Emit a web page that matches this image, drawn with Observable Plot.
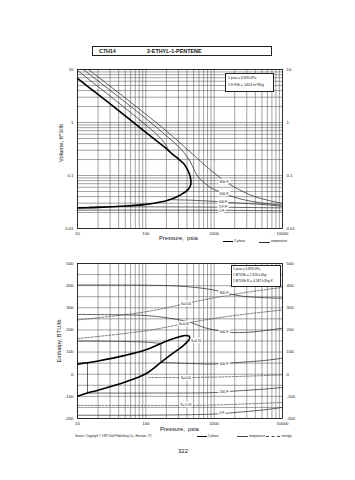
<!DOCTYPE html>
<html><head><meta charset="utf-8">
<script src="https://cdn.jsdelivr.net/npm/d3@7"></script>
<script src="https://cdn.jsdelivr.net/npm/@observablehq/plot@0.6"></script>
<style>
html,body{margin:0;padding:0;background:#fff;}
#page{position:relative;width:355px;height:480px;overflow:hidden;font-family:"Liberation Sans",Arial,Helvetica,sans-serif;color:#111;}
.t{position:absolute;white-space:nowrap;line-height:1;}
.box{position:absolute;border:0.8px solid #222;box-sizing:border-box;background:#fff;}
.svgwrap{position:absolute;left:0;}
.rot{position:absolute;transform:translate(-50%,-50%) rotate(-90deg);white-space:nowrap;line-height:1;}
.sw{position:absolute;height:0;}
</style></head>
<body><div id="page">
 <div class="box" style="left:92px;top:46px;width:180px;height:10px;"></div>
 <div class="t" style="left:99px;top:48.5px;font-size:5.4px;font-weight:bold;">C7H14</div>
 <div class="t" style="left:147px;top:48.5px;font-size:5.4px;font-weight:bold;">2-ETHYL-1-PENTENE</div>

 <div id="top" class="svgwrap" style="top:60px"></div>
 <div id="bot" class="svgwrap" style="top:254px"></div>

 <!-- top chart annotations -->
 <div class="box" style="left:225px;top:73px;width:49px;height:19px;"></div>
 <div class="t" style="left:228px;top:77px;font-size:3.4px;">1 psia = 6.895 kPa</div>
 <div class="t" style="left:228px;top:83.5px;font-size:3.4px;">1 ft^3/lb = .0624 m^3/kg</div>
 <div class="rot" style="left:62px;top:143px;font-size:5.8px;">Volume, ft^3/lb</div>
 <div class="t" style="left:159px;top:236px;font-size:5.8px;">Pressure,&nbsp; psia</div>
 <div class="sw" style="left:223px;top:241px;width:10px;border-top:1.6px solid #000;"></div>
 <div class="t" style="left:234.5px;top:240px;font-size:3px;">2 phase</div>
 <div class="sw" style="left:259px;top:241.5px;width:11px;border-top:0.7px solid #333;"></div>
 <div class="t" style="left:271px;top:240px;font-size:3px;">temperature</div>

 <!-- bottom chart annotations -->
 <div class="box" style="left:231px;top:265px;width:50px;height:22px;"></div>
 <div class="t" style="left:233px;top:268px;font-size:3.3px;">1 psia = 6.895 kPa</div>
 <div class="t" style="left:233px;top:274px;font-size:3.3px;">1 BTU/lb = 2.326 kJ/kg</div>
 <div class="t" style="left:233px;top:280px;font-size:3.3px;">1 BTU/lb R = 4.187 kJ/kg K</div>
 <div class="rot" style="left:60px;top:341px;font-size:5.8px;">Enthalpy, BTU/lb</div>
 <div class="t" style="left:160px;top:427px;font-size:5.8px;">Pressure,&nbsp; psia</div>
 <div class="t" style="left:75px;top:434.5px;font-size:2.9px;">Source: Copyright © 1997 Gulf Publishing Co., Houston, TX</div>
 <div class="sw" style="left:197px;top:436px;width:10px;border-top:1.6px solid #000;"></div>
 <div class="t" style="left:208px;top:434.5px;font-size:3px;">2 phase</div>
 <div class="sw" style="left:237px;top:436.3px;width:11px;border-top:0.7px solid #444;"></div>
 <div class="t" style="left:249px;top:434.5px;font-size:3px;">temperature</div>
 <div class="sw" style="left:266px;top:436.3px;width:14px;border-top:0.7px dashed #444;"></div>
 <div class="t" style="left:281.5px;top:434.5px;font-size:3px;">entropy</div>
 <div class="t" style="left:178px;top:448px;font-size:6px;">322</div>
</div>
<script>
// ---------- axis / grid values ----------
const P_TICKS = [10, 100, 1000, 10000];
const P_TICK_LABELS = ["10", "100", "1000", "10000"];
const P_GRID = [10,20,30,40,50,60,70,80,90,100,200,300,400,500,600,700,800,900,1000,2000,3000,4000,5000,6000,7000,8000,9000,10000];
const V_TICKS = [0.01, 0.1, 1, 10];
const V_TICK_LABELS = ["0.01", "0.1", "1", "10"];
const V_GRID = [0.01,0.02,0.03,0.04,0.05,0.06,0.07,0.08,0.09,0.1,0.2,0.3,0.4,0.5,0.6,0.7,0.8,0.9,1,2,3,4,5,6,7,8,9,10];
const H_TICKS = [-200, -100, 0, 100, 200, 300, 400, 500];
const H_TICK_LABELS = ["-200", "-100", "0", "100", "200", "300", "400", "500"];
const H_GRID = [-200,-150,-100,-50,0,50,100,150,200,250,300,350,400,450,500];

// ---------- volume chart: two-phase dome ----------
const volLiqP = [10, 20, 50, 100, 150, 200, 250, 300, 350, 400, 430, 450, 457];
const volLiqV = [0.0245, 0.025, 0.0265, 0.0285, 0.031, 0.0335, 0.037, 0.041, 0.046, 0.052, 0.058, 0.065, 0.074];
const volVapP = [450, 430, 400, 362, 300, 233, 200, 150, 100, 50, 20, 10];
const volVapV = [0.09, 0.11, 0.135, 0.165, 0.205, 0.268, 0.32, 0.43, 0.65, 1.33, 3.38, 6.8];
// ---------- volume chart: isotherms ----------
const v800P = [10, 50, 100, 200, 300, 457, 700, 904, 1268, 1700, 2254, 3000, 4436, 10000];
const v800V = [14.5, 2.9, 1.43, 0.69, 0.44, 0.27, 0.165, 0.124, 0.088, 0.068, 0.055, 0.046, 0.038, 0.0296];
const v600P = [10, 50, 100, 200, 300, 362, 450, 520, 582, 700, 904, 1400, 2254, 4436, 10000];
const v600V = [12.2, 2.42, 1.19, 0.56, 0.35, 0.27, 0.18, 0.12, 0.095, 0.075, 0.058, 0.046, 0.037, 0.031, 0.0275];
const v400VapP = [10, 30, 60, 100, 150, 190, 215];
const v400VapV = [9.6, 3.15, 1.54, 0.9, 0.57, 0.4, 0.3];
const v400LiqP = [215, 500, 1000, 2000, 5000, 10000];
const v400LiqV = [0.035, 0.034, 0.0325, 0.0305, 0.0285, 0.0262];
const v200P = [15, 100, 1000, 3000, 10000];
const v200V = [0.0256, 0.0256, 0.0253, 0.0249, 0.0245];
const v0P = [10, 100, 1000, 3000, 10000];
const v0V = [0.0222, 0.0222, 0.0221, 0.0219, 0.0216];
const volLabelText = ["800 F", "600 F", "400 F", "200 F", "0 F"];
const volLabelP = [1400, 1400, 1350, 1350, 1300];
const volLabelV = [0.076, 0.0458, 0.0324, 0.0258, 0.0218];

// ---------- enthalpy chart: two-phase dome ----------
const hLiqP = [10, 14, 20, 50, 100, 166, 250, 350, 400, 430, 440];
const hLiqH = [-100, -85, -72, -35, 2, 53, 95, 128, 145, 156, 165];
const hVapP = [430, 390, 350, 250, 166, 100, 50, 20, 10];
const hVapH = [172, 175, 173, 160, 139, 110, 85, 60, 45];
// ---------- enthalpy chart: isotherms ----------
const h800P = [10, 100, 300, 600, 1000, 1500, 2500, 5000, 10000];
const h800H = [403, 402, 398, 390, 380, 366, 353, 346, 343];
const h600P = [10, 50, 100, 233, 457, 711, 1000, 1400, 2000, 4000, 10000];
const h600H = [270, 268, 265, 252, 233, 211, 200, 193, 188, 192, 208];
const h400VapP = [10, 50, 100, 166];
const h400VapH = [150, 148, 145, 139];
const h400TwoP = [166, 166];
const h400TwoH = [139, 53];
const h400LiqP = [166, 500, 1000, 2000, 5000, 10000];
const h400LiqH = [53, 48, 46, 52, 61, 72];
const h200VapP = [10, 14];
const h200VapH = [50, 52];
const h200TwoP = [14, 14];
const h200TwoH = [52, -85];
const h200LiqP = [14, 100, 1000, 2000, 5000, 10000];
const h200LiqH = [-85, -85, -83, -76, -68, -60];
const h0P = [10, 100, 1000, 2000, 5000, 10000];
const h0H = [-185, -185, -180, -173, -162, -150];
// ---------- enthalpy chart: entropy lines ----------
const s050P = [10, 100, 370, 1000, 3000, 10000];
const s050H = [245, 282, 318, 345, 370, 392];
const s040P = [10, 100, 370, 1000, 3000, 10000];
const s040H = [161, 196, 229, 252, 272, 290];
const s000P = [110, 370, 1000, 3000, 10000];
const s000H = [-15, -15, -13, -9, -3];
const sm020P = [10, 100, 370, 1000, 3000, 10000];
const sm020H = [-141, -141, -141, -139, -134, -128];
const hTempLabelText = ["800 F", "600 F", "400 F", "200 F", "0 F"];
const hTempLabelP = [1400, 1400, 1400, 1400, 1300];
const hTempLabelH = [366, 193, 48, -82, -173];
const sLabelText = ["S=0.50", "S=0.40", "S=0.30", "S=0.00", "S=-0.20"];
const sLabelP = [387, 362, 545, 387, 387];
const sLabelH = [319, 229, 152, -15, -141];

// ---------- helpers ----------
const rows = (name, P, Y) => P.map((p, i) => ({p, y: Y[i], s: name}));
const labels = (T, P, Y) => T.map((t, i) => ({t, p: P[i], y: Y[i]}));
const GRID = "#555";
const font = "Liberation Sans, Arial, sans-serif";

// ---------- top chart ----------
const volDome = rows("dome", volLiqP.concat(volVapP), volLiqV.concat(volVapV));
const volTemp = [].concat(
  rows("800", v800P, v800V), rows("600", v600P, v600V),
  rows("400v", v400VapP, v400VapV), rows("400l", v400LiqP, v400LiqV),
  rows("200", v200P, v200V), rows("0", v0P, v0V));

const topPlot = Plot.plot({
  width: 355, height: 195, marginLeft: 77, marginRight: 73, marginTop: 9, marginBottom: 27,
  x: {type: "log", domain: [10, 10000]},
  y: {type: "log", domain: [0.01, 10]},
  style: {fontFamily: font, fontSize: "4.3px", color: "#111", background: "transparent", overflow: "visible"},
  marks: [
    Plot.ruleX(P_GRID, {stroke: GRID, strokeWidth: 0.55}),
    Plot.ruleY(V_GRID, {stroke: GRID, strokeWidth: 0.55}),
    Plot.line(volTemp, {x: "p", y: "y", z: "s", stroke: "#222", strokeWidth: 0.7, curve: "catmull-rom", clip: true}),
    Plot.line(volDome, {x: "p", y: "y", stroke: "#000", strokeWidth: 1.6, curve: "catmull-rom", clip: true}),
    Plot.text(labels(volLabelText, volLabelP, volLabelV), {x: "p", y: "y", text: "t", fontSize: 3.4, fill: "#111", stroke: "#fff", strokeWidth: 3}),
    Plot.frame({stroke: "#111", strokeWidth: 0.8}),
    Plot.axisX(P_TICKS, {tickSize: 0, tickPadding: 3, tickFormat: d => P_TICK_LABELS[P_TICKS.indexOf(d)], label: null}),
    Plot.axisY(V_TICKS, {anchor: "left", tickSize: 0, tickPadding: 4, tickFormat: d => V_TICK_LABELS[V_TICKS.indexOf(d)], label: null}),
    Plot.axisY(V_TICKS, {anchor: "right", tickSize: 0, tickPadding: 4, tickFormat: d => V_TICK_LABELS[V_TICKS.indexOf(d)], label: null})
  ]
});
document.getElementById("top").append(topPlot);

// ---------- bottom chart ----------
const hDome = rows("dome", hLiqP.concat(hVapP), hLiqH.concat(hVapH));
const hTemp = [].concat(
  rows("800", h800P, h800H), rows("600", h600P, h600H),
  rows("400v", h400VapP, h400VapH), rows("400t", h400TwoP, h400TwoH), rows("400l", h400LiqP, h400LiqH),
  rows("200v", h200VapP, h200VapH), rows("200t", h200TwoP, h200TwoH), rows("200l", h200LiqP, h200LiqH),
  rows("0", h0P, h0H));
const hEnt = [].concat(
  rows("s050", s050P, s050H), rows("s040", s040P, s040H),
  rows("s000", s000P, s000H), rows("sm020", sm020P, sm020H));

const botPlot = Plot.plot({
  width: 355, height: 184, marginLeft: 77, marginRight: 73, marginTop: 9, marginBottom: 20,
  x: {type: "log", domain: [10, 10000]},
  y: {domain: [-200, 500]},
  style: {fontFamily: font, fontSize: "4.3px", color: "#111", background: "transparent", overflow: "visible"},
  marks: [
    Plot.ruleX(P_GRID, {stroke: GRID, strokeWidth: 0.55}),
    Plot.ruleY(H_GRID, {stroke: GRID, strokeWidth: 0.55}),
    Plot.line(hEnt, {x: "p", y: "y", z: "s", stroke: "#444", strokeWidth: 0.7, strokeDasharray: "2,1.5", curve: "catmull-rom", clip: true}),
    Plot.line(hTemp, {x: "p", y: "y", z: "s", stroke: "#222", strokeWidth: 0.7, curve: "catmull-rom", clip: true}),
    Plot.line(hDome, {x: "p", y: "y", stroke: "#000", strokeWidth: 1.6, curve: "catmull-rom", clip: true}),
    Plot.text(labels(hTempLabelText, hTempLabelP, hTempLabelH), {x: "p", y: "y", text: "t", fontSize: 3.4, fill: "#111", stroke: "#fff", strokeWidth: 3}),
    Plot.text(labels(sLabelText, sLabelP, sLabelH), {x: "p", y: "y", text: "t", fontSize: 3.2, fill: "#111", stroke: "#fff", strokeWidth: 2.5}),
    Plot.frame({stroke: "#111", strokeWidth: 0.8}),
    Plot.axisX(P_TICKS, {tickSize: 0, tickPadding: 3, tickFormat: d => P_TICK_LABELS[P_TICKS.indexOf(d)], label: null}),
    Plot.axisY(H_TICKS, {anchor: "left", tickSize: 0, tickPadding: 4, tickFormat: d => H_TICK_LABELS[H_TICKS.indexOf(d)], label: null}),
    Plot.axisY(H_TICKS, {anchor: "right", tickSize: 0, tickPadding: 4, tickFormat: d => H_TICK_LABELS[H_TICKS.indexOf(d)], label: null})
  ]
});
document.getElementById("bot").append(botPlot);
</script>
</body></html>
